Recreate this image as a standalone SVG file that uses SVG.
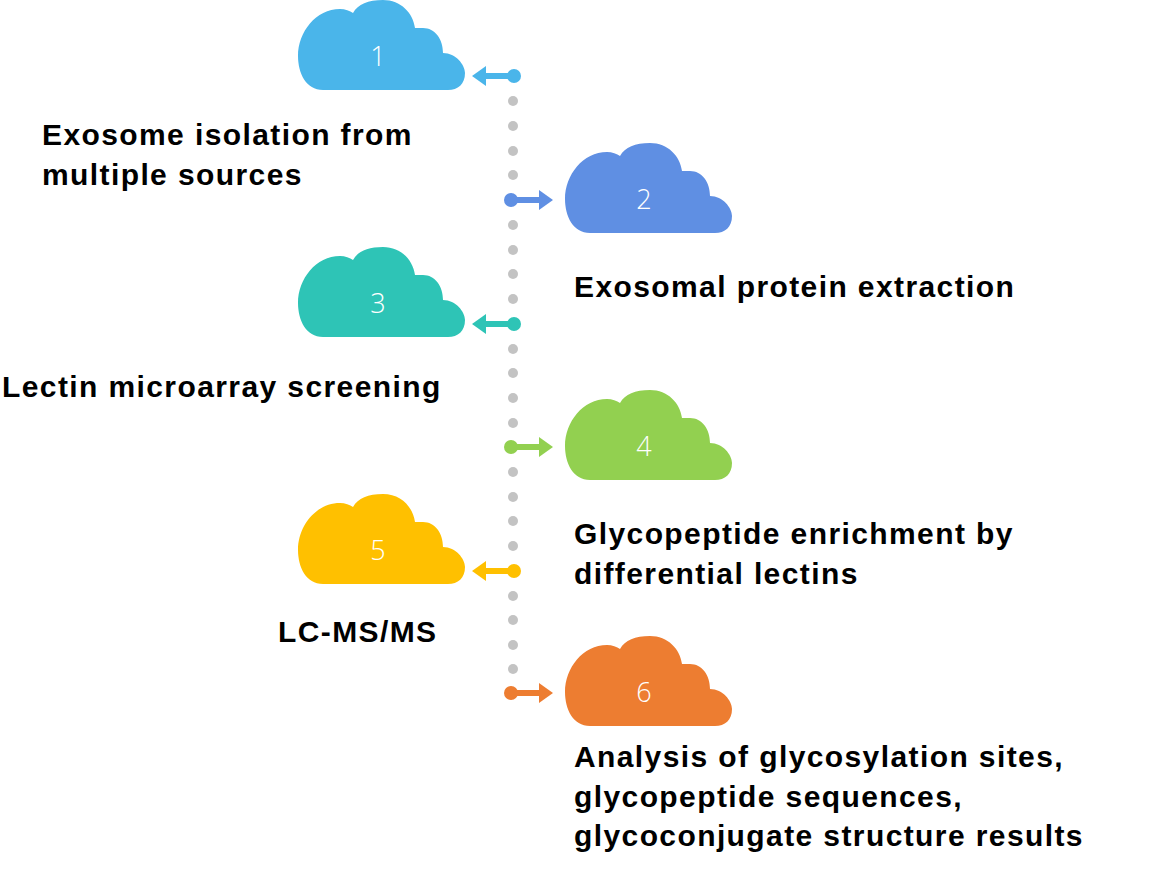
<svg xmlns="http://www.w3.org/2000/svg" width="1162" height="871" viewBox="0 0 1162 871">
<style>
.t{font-family:"Liberation Sans",Arial,sans-serif;font-weight:bold;font-size:30px;letter-spacing:1.4px;fill:#000}
.n{font-family:"Open Sans","Liberation Sans",sans-serif;font-weight:300;font-size:27px;fill:#fff;text-anchor:middle}
.dot{fill:#c3c3c3}
</style>
<defs>
<path id="cloud" d="M25,90 C8,90 0,73 0,56 C0,32 18,9 42,9 C47,9 52,11 55,13 C60,4 70,0 85,0 C103,0 115,13 117,28 L125,28 C137,28 145,39 145,53 C158,53 167,65 167,73 C167,84 160,90 150,90 Z"/>
</defs>
<rect width="1162" height="871" fill="#fff"/>
<g id="connectors">
<g class="dot">
<circle cx="513" cy="101" r="5"/><circle cx="513" cy="126" r="5"/><circle cx="513" cy="151" r="5"/><circle cx="513" cy="175" r="5"/>
<circle cx="513" cy="225" r="5"/><circle cx="513" cy="250" r="5"/><circle cx="513" cy="274" r="5"/><circle cx="513" cy="299" r="5"/>
<circle cx="513" cy="349" r="5"/><circle cx="513" cy="373" r="5"/><circle cx="513" cy="398" r="5"/><circle cx="513" cy="423" r="5"/>
<circle cx="513" cy="472" r="5"/><circle cx="513" cy="497" r="5"/><circle cx="513" cy="521" r="5"/><circle cx="513" cy="546" r="5"/>
<circle cx="513" cy="596" r="5"/><circle cx="513" cy="620" r="5"/><circle cx="513" cy="645" r="5"/><circle cx="513" cy="669" r="5"/>
</g>
<g fill="#4ab5ea"><circle cx="514" cy="76" r="7"/><rect x="485" y="73" width="29" height="6"/><path d="M472,76 L486,66 L486,86 Z"/></g>
<g fill="#5f8fe3"><circle cx="511" cy="200" r="7"/><rect x="511" y="197" width="29" height="6"/><path d="M553,200 L539,190 L539,210 Z"/></g>
<g fill="#2ec4b6"><circle cx="514" cy="324" r="7"/><rect x="485" y="321" width="29" height="6"/><path d="M472,324 L486,314 L486,334 Z"/></g>
<g fill="#92d050"><circle cx="511" cy="447" r="7"/><rect x="511" y="444" width="29" height="6"/><path d="M553,447 L539,437 L539,457 Z"/></g>
<g fill="#ffc000"><circle cx="514" cy="571" r="7"/><rect x="485" y="568" width="29" height="6"/><path d="M472,571 L486,561 L486,581 Z"/></g>
<g fill="#ed7d31"><circle cx="511" cy="693" r="7"/><rect x="511" y="690" width="29" height="6"/><path d="M553,693 L539,683 L539,703 Z"/></g>
</g>
<g id="node1"><use href="#cloud" x="298" y="0" fill="#4ab5ea"/><text class="n" x="378" y="66">1</text>
<text class="t" x="42" y="145">Exosome isolation from</text><text class="t" x="42" y="185">multiple sources</text></g>
<g id="node2"><use href="#cloud" x="565" y="143" fill="#5f8fe3"/><text class="n" x="644" y="209">2</text>
<text class="t" x="574" y="297">Exosomal protein extraction</text></g>
<g id="node3"><use href="#cloud" x="298" y="247" fill="#2ec4b6"/><text class="n" x="378" y="313">3</text>
<text class="t" x="2" y="397">Lectin microarray screening</text></g>
<g id="node4"><use href="#cloud" x="565" y="390" fill="#92d050"/><text class="n" x="644" y="456">4</text>
<text class="t" x="574" y="544">Glycopeptide enrichment by</text><text class="t" x="574" y="584">differential lectins</text></g>
<g id="node5"><use href="#cloud" x="298" y="494" fill="#ffc000"/><text class="n" x="378" y="560">5</text>
<text class="t" x="278" y="642">LC-MS/MS</text></g>
<g id="node6"><use href="#cloud" x="565" y="636" fill="#ed7d31"/><text class="n" x="644" y="702">6</text>
<text class="t" x="574" y="767">Analysis of glycosylation sites,</text><text class="t" x="574" y="807">glycopeptide sequences,</text><text class="t" x="574" y="846">glycoconjugate structure results</text></g>
</svg>
